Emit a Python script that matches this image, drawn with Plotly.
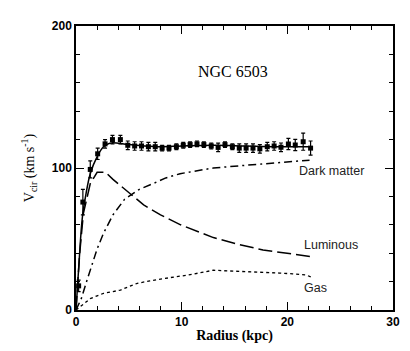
import plotly.graph_objects as go

# Observed rotation curve (radius kpc, velocity km/s, error)
obs_r = [0.25, 0.65, 1.35, 2.05, 2.75, 3.45, 4.2, 4.9, 5.55, 6.2, 6.85, 7.5, 8.15, 8.8, 9.5,
         10.15, 10.8, 11.45, 12.1, 12.8, 13.45, 14.1, 14.8, 15.45, 16.1, 16.75, 17.4,
         18.1, 18.75, 19.4, 20.1, 20.75, 21.5, 22.2]
obs_v = [17, 76, 99, 110, 117, 120, 120, 116, 115.5, 115.5, 115, 115, 114, 114, 115,
         116, 116.5, 117, 116.5, 115.5, 114.5, 116.5, 115, 114, 114, 114, 113.5,
         115, 115.5, 114.6, 116.9, 116.2, 118.5, 114]
obs_e = [4, 9, 6, 4, 3, 3, 3, 3, 3, 3, 3, 3, 2, 2, 2,
         2, 2, 2, 2, 2, 3, 2, 2, 3, 3, 3, 3,
         3, 3, 3, 4, 4, 6, 5]

# Total model fit
tot_r = [0, 0.3, 0.6, 0.95, 1.35, 2.0, 2.6, 3.2, 4.0, 5.0, 6.5, 8.0, 10.0, 13.0, 16.0, 19.0, 22.2]
tot_v = [0, 35, 65, 82, 96, 108, 115, 117.5, 117.5, 116.5, 115.5, 115, 115.5, 116, 115.5, 115, 115]

# Luminous component
lum_r = [0, 0.35, 0.7, 1.35, 2.0, 2.8, 3.5, 4.8, 6.4, 8.0, 9.9, 13.0, 15.5, 17.7, 20.0, 22.3]
lum_v = [0, 40, 68, 89, 97, 97, 92, 84, 74, 67, 60, 51, 46, 42.3, 40, 37.5]

# Dark matter component
dm_r = [0, 0.5, 1.0, 1.5, 2.0, 2.6, 3.5, 4.6, 6.0, 7.3, 8.5, 9.85, 13.0, 16.2, 19.3, 22.1]
dm_v = [0, 8, 20, 32, 43, 54, 67, 78, 85, 89, 93, 96, 100, 102, 104, 105.5]

# Gas component
gas_r = [0, 0.5, 1.0, 1.35, 2.0, 2.6, 3.5, 4.2, 5.0, 5.8, 7.0, 8.3, 9.5, 10.6, 12.0, 13.0,
         14.5, 16.2, 17.5, 19.3, 20.5, 21.8, 22.3]
gas_v = [0, 3, 6.5, 8, 10, 11.7, 13, 14, 16.5, 18.8, 20.5, 22.3, 23.5, 24.6, 26.5, 28,
         27.5, 27, 27, 26, 25.5, 24.6, 23]

x_ticks = [0, 10, 20, 30]
y_ticks = [0, 100, 200]

serif = "Liberation Serif, DejaVu Serif, serif"
sans = "Liberation Sans, Arial, sans-serif"

fig = go.Figure()
fig.add_trace(go.Scatter(x=gas_r, y=gas_v, mode="lines",
                         line=dict(color="black", width=1.3, dash="dot"), showlegend=False))
fig.add_trace(go.Scatter(x=dm_r, y=dm_v, mode="lines",
                         line=dict(color="black", width=1.5, dash="8px,4px,2px,4px"), showlegend=False))
fig.add_trace(go.Scatter(x=lum_r, y=lum_v, mode="lines",
                         line=dict(color="black", width=1.5, dash="14px,5px"), showlegend=False))
fig.add_trace(go.Scatter(x=tot_r, y=tot_v, mode="lines", line_shape="spline",
                         line=dict(color="black", width=1.5), showlegend=False))
fig.add_trace(go.Scatter(x=obs_r, y=obs_v, mode="markers",
                         marker=dict(symbol="square", size=5, color="black"),
                         error_y=dict(type="data", array=obs_e, color="black", thickness=1.2, width=2),
                         showlegend=False))

fig.add_annotation(x=14.9, y=168, text="NGC 6503", showarrow=False,
                   font=dict(family=serif, size=16, color="black"))
fig.add_annotation(x=20.9, y=98, text="Dark matter", showarrow=False, xanchor="left",
                   font=dict(family=sans, size=12.5, color="#222"))
fig.add_annotation(x=21.4, y=46, text="Luminous", showarrow=False, xanchor="left",
                   font=dict(family=sans, size=12.5, color="#222"))
fig.add_annotation(x=21.4, y=15.5, text="Gas", showarrow=False, xanchor="left",
                   font=dict(family=sans, size=12.5, color="#222"))

axis_common = dict(showgrid=False, zeroline=False, showline=True, linecolor="black", linewidth=1.5,
                   mirror="allticks", ticks="inside", ticklen=8, tickwidth=1.3, tickcolor="black",
                   automargin=False,
                   tickfont=dict(family=sans, size=12, color="black", weight="bold"))

fig.update_layout(
    width=402, height=343,
    margin=dict(l=68, r=17, t=18, b=41),
    paper_bgcolor="white", plot_bgcolor="white",
    xaxis=dict(range=[0, 30], tickvals=x_ticks,
               minor=dict(dtick=2, ticks="inside", ticklen=4, tickcolor="black", tickwidth=1.2),
               title=dict(text="Radius (kpc)", font=dict(family=serif, size=14, color="black", weight="bold"),
                          standoff=2),
               **axis_common),
    yaxis=dict(range=[0, 200], tickvals=y_ticks,
               minor=dict(dtick=20, ticks="inside", ticklen=4, tickcolor="black", tickwidth=1.2),
               title=dict(text="V<sub>cir</sub> (km s<sup>-1</sup>)",
                          font=dict(family=serif, size=14, color="black"), standoff=14),
               **axis_common),
)

fig.write_html("out.html")
